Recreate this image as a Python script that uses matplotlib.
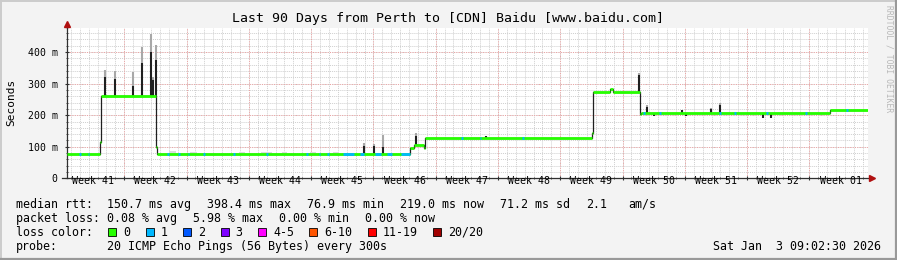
import numpy as np
import matplotlib
matplotlib.use("Agg")
import matplotlib.pyplot as plt
from matplotlib.patches import Rectangle

W, H = 897, 260
MONO = "DejaVu Sans Mono"

# median rtt in ms, as steps: day (from graph start) where each level begins
level_start = [0.0, 3.75, 3.85, 10.05, 10.2, 38.6, 39.0, 40.15, 40.3,
               59.0, 59.15, 61.05, 61.4, 64.45, 64.6, 85.8]
level_ms = [77, 115, 262, 100, 77, 97, 106, 97, 128,
            143, 272, 284, 272, 204, 206, 218]

# single-sample excursions of the median, and how far the smoke reaches
spike_day = [4.35, 5.4, 7.4, 8.45, 9.42, 9.65, 10.0, 33.45, 34.5, 35.6, 39.3,
             47.1, 64.35, 65.2, 66.0, 69.2, 69.6, 72.4, 73.4, 78.2, 79.2]
spike_ms = [322, 316, 293, 365, 399, 312, 375, 102, 102, 100, 134,
            133, 328, 227, 196, 216, 196, 219, 233, 192, 192]
smoke_ms = [343, 341, 338, 415, 457, 320, 423, 113, 110, 137, 143,
            135, 333, 232, 196, 218, 196, 222, 240, 192, 192]

# light smoke patches above the baseline
haze_start = [11.5, 13.9, 19.4, 21.8, 24.2, 27.4, 29.9]
haze_end = [12.3, 14.6, 20.0, 23.1, 24.8, 28.0, 30.6]
haze_ms = [85, 83, 82, 84, 82, 83, 82]

# stretches drawn in the "1 lost" colour
loss1_start = [1.4, 2.35, 11.25, 12.5, 13.6, 15.3, 18.7, 22.4, 26.9, 28.3, 29.3,
               31.0, 33.0, 34.7, 36.0, 37.6, 44.3, 46.4, 51.2, 64.8, 66.6,
               73.3, 75.0, 78.6, 83.0, 87.6]
loss1_end = [1.6, 2.55, 11.45, 12.7, 13.8, 15.5, 18.9, 22.6, 27.1, 28.5, 29.5,
             32.3, 33.4, 35.3, 36.6, 38.6, 44.5, 46.6, 51.4, 65.0, 66.8,
             73.5, 75.2, 78.8, 83.2, 87.8]

week_labels = ["Week 41", "Week 42", "Week 43", "Week 44", "Week 45", "Week 46",
               "Week 47", "Week 48", "Week 49", "Week 50", "Week 51", "Week 52",
               "Week 01"]
y_ticks = [0, 100, 200, 300, 400]
y_labels = ["0", "100 m", "200 m", "300 m", "400 m"]

loss_labels = ["0", "1", "2", "3", "4-5", "6-10", "11-19", "20/20"]
loss_colors = ["#26ff00", "#00b8ff", "#0059ff", "#7e00ff", "#ff00ff",
               "#ff5500", "#ff0000", "#a10000"]

rtt_items = [(107.3, "150.7 ms avg"), (207.3, "398.4 ms max"), (307.3, "76.9 ms min"),
             (400.3, "219.0 ms now"), (500.3, "71.2 ms sd"), (586.5, "2.1"),
             (628.3, "am/s")]
loss_items = [(107.3, "0.08 % avg"), (193.3, "5.98 % max"), (279.3, "0.00 % min"),
              (365.3, "0.00 % now")]

DAYS = 90
FIRST_WEEK_LINE = 6.47


def fx(x):
    return x / W


def fy(y):
    return 1 - y / H


def level_at(day):
    i = np.searchsorted(level_start, day, side="right") - 1
    return level_ms[i]


fig = plt.figure(figsize=(W / 100, H / 100), dpi=100, facecolor="#f3f3f3")

# frame shading
fig.add_artist(plt.Line2D([0, 1], [fy(0.5), fy(0.5)], color="#cbcbcb", lw=1.4))
fig.add_artist(plt.Line2D([fx(0.5), fx(0.5)], [0, 1], color="#cbcbcb", lw=1.4))
fig.add_artist(plt.Line2D([0, 1], [fy(259), fy(259)], color="#999999", lw=1.6))
fig.add_artist(plt.Line2D([fx(896), fx(896)], [0, 1], color="#999999", lw=1.6))

left, right, top, bottom = 66.7, 867.5, 27.5, 178.3
ax = fig.add_axes([fx(left), fy(bottom), fx(right - left), (bottom - top) / H])
ax.set_facecolor("white")
ax.set_xlim(0, DAYS)
ax.set_ylim(0, 478)

# grid
for d in np.arange(FIRST_WEEK_LINE - 6, DAYS, 1.0):
    ax.axvline(d, color="#cfcfcf", lw=0.7, ls=(0, (1, 1)), zorder=0)
for v in range(20, 478, 20):
    ax.axhline(v, color="#cfcfcf", lw=0.7, ls=(0, (1, 1)), zorder=0)
for d in np.arange(FIRST_WEEK_LINE, DAYS, 7.0):
    ax.axvline(d, color="#f0a0a0", lw=0.7, ls=(0, (1, 1.5)), zorder=0.5)
for v in y_ticks[1:]:
    ax.axhline(v, color="#f0a0a0", lw=0.7, ls=(0, (1, 1.5)), zorder=0.5)

# smoke haze
for s, e, v in zip(haze_start, haze_end, haze_ms):
    ax.fill_between([s, e], level_at(s), v, color="#dcdcdc", lw=0, zorder=1)

# smoke above spikes
for d, m, s in zip(spike_day, spike_ms, smoke_ms):
    if s > m:
        ax.vlines(d, m, s, color="#a8a8a8", lw=1.5, zorder=1.5)

# black median line
xs = list(level_start) + [DAYS]
ys = list(level_ms) + [level_ms[-1]]
ax.step(xs, ys, where="post", color="#202020", lw=0.9, zorder=2)
for d, m in zip(spike_day, spike_ms):
    ax.vlines(d, level_at(d), m, color="#202020", lw=1.5, zorder=2)

# loss coloured median
for i, (s, v) in enumerate(zip(level_start, level_ms)):
    e = level_start[i + 1] if i + 1 < len(level_start) else DAYS
    ax.hlines(v, s, e, color=loss_colors[0], lw=2.0, zorder=3)
for s, e in zip(loss1_start, loss1_end):
    ax.hlines(level_at(s), s, e, color=loss_colors[1], lw=2.0, zorder=4)

# axes and ticks
for sp in ["top", "right"]:
    ax.spines[sp].set_visible(False)
for sp in ["left", "bottom"]:
    ax.spines[sp].set_color("#303030")
    ax.spines[sp].set_linewidth(0.9)
ax.spines["bottom"].set_bounds(-0.5, DAYS + 0.3)

ax.set_xticks(np.arange(FIRST_WEEK_LINE, DAYS, 7.0))
ax.set_xticklabels([])
ax.set_xticks(np.arange(FIRST_WEEK_LINE - 6, DAYS, 1.0), minor=True)
ax.tick_params(axis="x", which="major", length=3, direction="inout", color="#303030")
ax.tick_params(axis="x", which="minor", length=1.5, direction="inout", color="#303030")
ax.set_yticks(y_ticks)
ax.set_yticklabels(y_labels, fontsize=7.1, fontfamily=MONO)
ax.set_yticks(range(0, 478, 20), minor=True)
ax.tick_params(axis="y", which="major", length=3, direction="inout", pad=5, color="#303030")
ax.tick_params(axis="y", which="minor", length=1.5, direction="inout", color="#303030")

for i, lab in enumerate(week_labels):
    ax.text(FIRST_WEEK_LINE - 3.5 + 7 * i, -9, lab, ha="center", va="center",
            fontsize=7.1, fontfamily=MONO, clip_on=False)

# axis arrows
ax.plot([DAYS + 0.55], [0], marker=">", color="#b01010", ms=4.5, clip_on=False, zorder=6)
ax.plot([0], [478 + 10], marker="^", color="#b01010", ms=4.5, clip_on=False, zorder=6)
ax.plot([0, 0], [478, 486], color="#303030", lw=0.9, clip_on=False)

# texts
fig.text(fx(447.5), fy(18.5), "Last 90 Days from Perth to [CDN] Baidu [www.baidu.com]",
         ha="center", va="center", fontsize=9.5, fontfamily=MONO)
fig.text(fx(11.5), fy(102.5), "Seconds", rotation=90, ha="center", va="center",
         fontsize=8, fontfamily=MONO)
fig.text(fx(889), fy(59), "RRDTOOL / TOBI OETIKER", rotation=270, ha="center",
         va="center", fontsize=5.8, fontfamily=MONO, color="#b8b8b8")

fs = 8.4
fig.text(fx(16), fy(204.3), "median rtt:", va="center", fontsize=fs, fontfamily=MONO)
for x, t in rtt_items:
    fig.text(fx(x), fy(204.3), t, va="center", fontsize=fs, fontfamily=MONO)
fig.text(fx(16), fy(218.3), "packet loss:", va="center", fontsize=fs, fontfamily=MONO)
for x, t in loss_items:
    fig.text(fx(x), fy(218.3), t, va="center", fontsize=fs, fontfamily=MONO)
fig.text(fx(16), fy(232.3), "loss color:", va="center", fontsize=fs, fontfamily=MONO)
bx = 108.3
for lab, col in zip(loss_labels, loss_colors):
    fig.add_artist(Rectangle((fx(bx), fy(236.3)), 8 / W, 8 / H, transform=fig.transFigure,
                             facecolor=col, edgecolor="black", lw=0.6))
    fig.text(fx(bx + 15), fy(232.3), lab, va="center", fontsize=fs, fontfamily=MONO)
    bx += 30.4 + 7.02 * len(lab)
fig.text(fx(16), fy(246.3), "probe:", va="center", fontsize=fs, fontfamily=MONO)
fig.text(fx(107.3), fy(246.3), "20 ICMP Echo Pings (56 Bytes) every 300s",
         va="center", fontsize=fs, fontfamily=MONO)
fig.text(fx(880.5), fy(246.3), "Sat Jan  3 09:02:30 2026", ha="right",
         va="center", fontsize=fs, fontfamily=MONO)

fig.savefig("out.png", dpi=100, facecolor=fig.get_facecolor())
